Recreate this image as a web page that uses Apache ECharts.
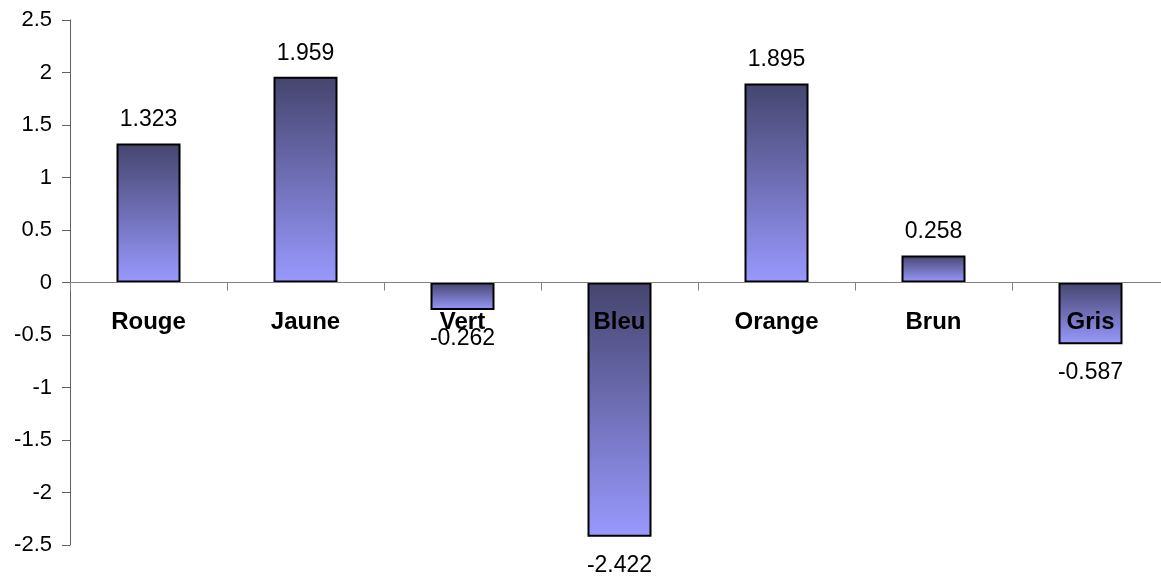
<!DOCTYPE html>
<html>
<head>
<meta charset="utf-8">
<script src="https://cdn.jsdelivr.net/npm/echarts@6/dist/echarts.min.js"></script>
<style>
html,body{margin:0;padding:0;background:#fff;}
#chart{width:1161px;height:577px;}
</style>
</head>
<body>
<div id="chart"></div>
<script>
var categories = ['Rouge','Jaune','Vert','Bleu','Orange','Brun','Gris'];
var values = [1.323, 1.959, -0.262, -2.422, 1.895, 0.258, -0.587];
var yMin = -2.5, yMax = 2.5, yStep = 0.5;

var gridTop = 20, gridHeight = 525;
//类目轴放在0刻度处
var zeroOffset = -gridHeight * (0 - yMin) / (yMax - yMin);

var chart = echarts.init(document.getElementById('chart'));

//渐变填充：上深下浅
var barFill = new echarts.graphic.LinearGradient(0, 0, 0, 1, [
	{offset: 0, color: '#45456e'},
	{offset: 1, color: '#9999ff'}
]);

var seriesData = [];
for (var i = 0; i < values.length; i++) {
	var neg = values[i] < 0;
	seriesData.push({
		value: values[i],
		label: {position: neg ? 'bottom' : 'top', distance: neg ? 17 : 12}
	});
}

var option = {
	animation: false,
	backgroundColor: '#ffffff',
	grid: {
		left: 70,
		top: gridTop,
		width: 1099,
		height: gridHeight,
		containLabel: false,
		outerBoundsMode: 'none'
	},
	xAxis: {
		type: 'category',
		data: categories,
		z: 10,
		offset: zeroOffset,
		axisLine: {onZero: false, lineStyle: {color: '#808080', width: 1}},
		axisTick: {show: true, inside: false, length: 8, lineStyle: {color: '#808080'}},
		axisLabel: {
			margin: 28,
			color: '#000',
			fontFamily: 'Liberation Sans, Arial, sans-serif',
			fontSize: 24,
			fontWeight: 'bold'
		},
		splitLine: {show: false}
	},
	yAxis: {
		type: 'value',
		min: yMin,
		max: yMax,
		interval: yStep,
		axisLine: {show: true, lineStyle: {color: '#606060', width: 1}},
		axisTick: {show: true, length: 8, lineStyle: {color: '#606060'}},
		axisLabel: {
			margin: 18,
			color: '#000',
			fontFamily: 'Liberation Sans, Arial, sans-serif',
			fontSize: 22
		},
		splitLine: {show: false}
	},
	series: [{
		type: 'bar',
		data: seriesData,
		barWidth: 64,
		itemStyle: {
			color: barFill,
			borderColor: '#000',
			borderWidth: 2
		},
		label: {
			show: true,
			color: '#000',
			fontFamily: 'Liberation Sans, Arial, sans-serif',
			fontSize: 23,
			formatter: function (p) { return p.value; }
		}
	}]
};
chart.setOption(option);
</script>
</body>
</html>
